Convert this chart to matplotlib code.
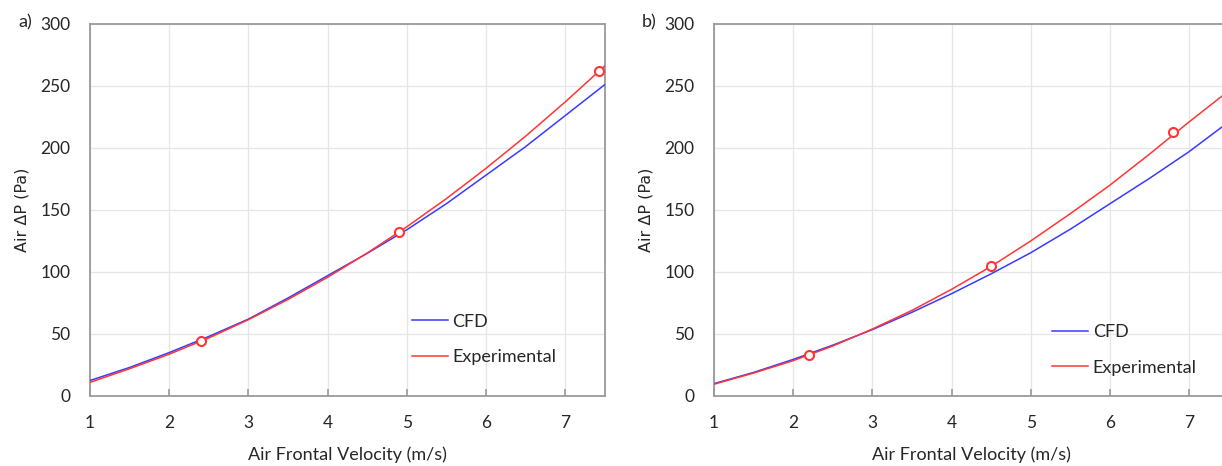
import numpy as np
import matplotlib
matplotlib.use("Agg")
import matplotlib.pyplot as plt

# values
velocity = [1.0, 1.5, 2.0, 2.5, 3.0, 3.5, 4.0, 4.5, 5.0, 5.5, 6.0, 6.5, 7.0, 7.5]

cfd_a = [12.5, 23, 35, 48, 62, 79, 97, 115, 134, 155, 178, 201, 226, 251]
exp_curve_a = [11, 22, 33.7, 46.8, 61.5, 77.8, 95.7, 115.2, 136.4, 159.1, 183.5, 209.4, 237, 266]
exp_pts_x_a = [2.4, 4.9, 7.43]
exp_pts_y_a = [44, 132, 262]

cfd_b = [10, 19, 29.5, 41, 53.5, 67.5, 82.5, 98.5, 115.5, 134.5, 155, 175.5, 197, 221]
exp_curve_b = [9.5, 18.5, 28.5, 40.3, 54, 69, 86, 104.5, 125, 147, 170, 195, 221, 246]
exp_pts_x_b = [2.2, 4.5, 6.8]
exp_pts_y_b = [33, 104.5, 212.5]

x_ticks = [1, 2, 3, 4, 5, 6, 7]
y_ticks = [0, 50, 100, 150, 200, 250, 300]

BLUE = "#3a3aff"
RED = "#ff3535"
TEXT = "#262626"
W, H = 1222, 466

plt.rcParams["font.family"] = ["Lato", "DejaVu Sans"]

fig = plt.figure(figsize=(W / 100, H / 100), dpi=100)


def make_panel(left_px, cfd, exp_curve, px, py, tag, leg_x, leg_y):
    width_px = 6.5 * 79.17
    ax = fig.add_axes([left_px / W, 1 - 396 / H, width_px / W, 372 / H])
    ax.plot(velocity, cfd, color=BLUE, linewidth=1.1, label="CFD", zorder=3)
    ax.plot(velocity, exp_curve, color=RED, linewidth=1.1, label="Experimental", zorder=3)
    ax.plot(px, py, linestyle="none", marker="o", markersize=6.5,
            markerfacecolor="white", markeredgecolor=RED, markeredgewidth=1.5, zorder=4)
    ax.set_xlim(1, 7.5)
    ax.set_ylim(0, 300)
    ax.set_xticks(x_ticks)
    ax.set_yticks(y_ticks)
    ax.grid(True, color="#e6e6e6", linewidth=0.9)
    ax.set_axisbelow(True)
    for s in ax.spines.values():
        s.set_color("#9a9a9a")
        s.set_linewidth(1.3)
    ax.tick_params(axis="x", direction="in", length=5, width=1.2, color="#9a9a9a",
                   pad=14, labelsize=12.5, labelcolor=TEXT)
    ax.tick_params(axis="y", length=0, pad=14, labelsize=12.5, labelcolor=TEXT)
    ax.set_xlabel("Air Frontal Velocity (m/s)", fontsize=13, color=TEXT, labelpad=11)
    ax.legend(loc="center left", bbox_to_anchor=(leg_x, leg_y), frameon=False,
              fontsize=13, handlelength=2.0, handletextpad=0.25, labelspacing=1.1,
              borderpad=0, borderaxespad=0, labelcolor=TEXT)
    fig.text((left_px - 68) / W, 1 - 210 / H, "Air \u0394P (Pa)", rotation=90,
             ha="center", va="center", fontsize=11.5, color=TEXT,
             family=["DejaVu Sans"])
    fig.text((left_px - 65) / W, 1 - 22 / H, tag, ha="center", va="center",
             fontsize=13, color=TEXT)
    return ax


make_panel(90, cfd_a, exp_curve_a, exp_pts_x_a, exp_pts_y_a, "a)", 0.625, 0.152)
make_panel(714, cfd_b, exp_curve_b, exp_pts_x_b, exp_pts_y_b, "b)", 0.657, 0.124)

fig.savefig("out.png", dpi=100)
